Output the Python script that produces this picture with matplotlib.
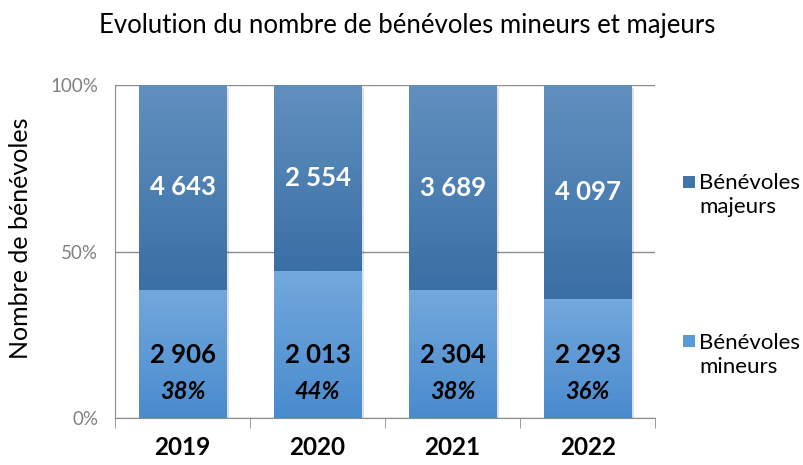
import matplotlib.pyplot as plt
import numpy as np
from matplotlib.colors import LinearSegmentedColormap
from matplotlib.patches import Rectangle

plt.rcParams['font.family'] = ['Lato', 'DejaVu Sans']

# data
years = ['2019', '2020', '2021', '2022']
mineurs = [2906, 2013, 2304, 2293]
majeurs = [4643, 2554, 3689, 4097]
labels_min = ['2 906', '2 013', '2 304', '2 293']
labels_maj = ['4 643', '2 554', '3 689', '4 097']

total = np.array(mineurs) + np.array(majeurs)
p_min = np.array(mineurs) / total
p_maj = np.array(majeurs) / total

fig = plt.figure(figsize=(8.04, 4.65), dpi=100)
ax = fig.add_axes([0.143, 0.101, 0.672, 0.716])

x = np.arange(len(years))
w = 0.65

cmap_maj = LinearSegmentedColormap.from_list('maj', ['#3a6fa5', '#6190bf'])
cmap_min = LinearSegmentedColormap.from_list('min', ['#4a8bce', '#72a8dc'])
grad = np.linspace(0, 1, 100).reshape(-1, 1)

for i in range(len(years)):
    # shadow
    ax.add_patch(Rectangle((x[i] - w / 2 + 0.02, -0.008), w, 1.0,
                           facecolor='#000000', alpha=0.12, edgecolor='none', zorder=1))
    b1 = ax.bar(x[i], p_min[i], w, color='#5b9bd5', zorder=2)[0]
    b2 = ax.bar(x[i], p_maj[i], w, bottom=p_min[i], color='#4a7fb5', zorder=2)[0]
    im1 = ax.imshow(grad, cmap=cmap_min, aspect='auto', origin='lower',
                    extent=(x[i] - w / 2, x[i] + w / 2, 0, p_min[i]), zorder=3)
    im1.set_clip_path(b1)
    im2 = ax.imshow(grad, cmap=cmap_maj, aspect='auto', origin='lower',
                    extent=(x[i] - w / 2, x[i] + w / 2, p_min[i], 1), zorder=3)
    im2.set_clip_path(b2)

    ax.text(x[i], p_min[i] + p_maj[i] / 2, labels_maj[i], ha='center', va='center',
            color='white', fontsize=18.5, fontweight='bold', zorder=5)
    ax.text(x[i], 0.19, labels_min[i], ha='center', va='center',
            color='black', fontsize=18.5, fontweight='bold', zorder=5)
    ax.text(x[i], 0.08, '%d%%' % round(p_min[i] * 100), ha='center', va='center',
            color='black', fontsize=17, fontweight='bold', style='italic', zorder=5)

ax.set_xlim(-0.5, len(years) - 0.5)
ax.set_ylim(0, 1)
ax.set_yticks([0, 0.5, 1])
ax.set_yticklabels(['0%', '50%', '100%'], color='#808080', fontsize=13.5)
ax.tick_params(axis='y', length=0, pad=12)
ax.yaxis.grid(True, color='#8c8c8c', linewidth=1)
ax.set_axisbelow(True)

ax.set_xticks(x)
ax.set_xticklabels(years, fontsize=17.5, fontweight='bold')
ax.set_xticks(np.arange(-0.5, len(years), 1), minor=True)
ax.tick_params(axis='x', which='major', length=0, pad=13)
ax.tick_params(axis='x', which='minor', length=7, color='#8c8c8c')

for s in ['top', 'right']:
    ax.spines[s].set_visible(False)
for s in ['left', 'bottom']:
    ax.spines[s].set_color('#8c8c8c')

ax.set_ylabel('Nombre de bénévoles', fontsize=18)
ax.yaxis.set_label_coords(-0.153, 0.54)
fig.text(0.507, 0.945, 'Evolution du nombre de bénévoles mineurs et majeurs',
         ha='center', va='center', fontsize=18.5)

# legend
fig.patches.append(Rectangle((0.850, 0.596), 0.0145, 0.026, transform=fig.transFigure,
                             facecolor='#3f75ab', edgecolor='none'))
fig.text(0.870, 0.581, 'Bénévoles\nmajeurs', ha='left', va='center', fontsize=16,
         linespacing=1.25)
fig.patches.append(Rectangle((0.850, 0.254), 0.0145, 0.026, transform=fig.transFigure,
                             facecolor='#5b9bd5', edgecolor='none'))
fig.text(0.870, 0.237, 'Bénévoles\nmineurs', ha='left', va='center', fontsize=16,
         linespacing=1.25)

fig.savefig('out.png', dpi=100)
